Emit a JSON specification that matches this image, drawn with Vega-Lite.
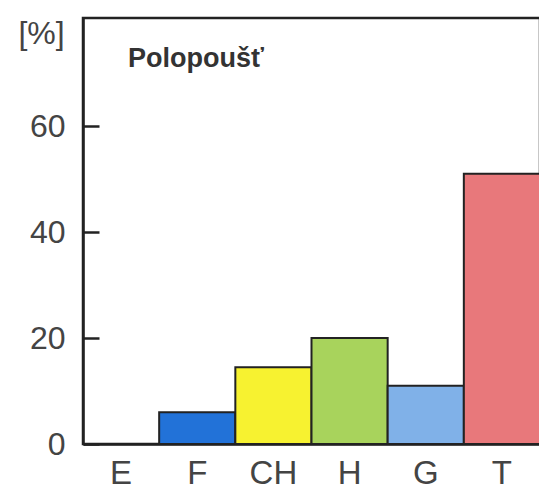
{
  "$schema": "https://vega.github.io/schema/vega-lite/v6.json",
  "width": 457,
  "height": 426,
  "autosize": {"type": "none"},
  "padding": {"left": 83, "top": 18, "right": 0, "bottom": 47},
  "background": "white",
  "config": {
    "view": {"stroke": "#222", "strokeWidth": 2.5},
    "font": "Liberation Sans"
  },
  "title": {
    "text": "Polopoušť",
    "anchor": "start",
    "frame": "group",
    "orient": "top",
    "offset": -56,
    "dx": 45,
    "fontSize": 27,
    "fontWeight": "bold",
    "color": "#333",
    "font": "Liberation Sans"
  },
  "data": {
    "values": [
      {"cat": "E", "pct": 0, "col": "#ffffff"},
      {"cat": "F", "pct": 6, "col": "#2272d8"},
      {"cat": "CH", "pct": 14.5, "col": "#f7f230"},
      {"cat": "H", "pct": 20, "col": "#a8d35c"},
      {"cat": "G", "pct": 11, "col": "#80b1e8"},
      {"cat": "T", "pct": 51, "col": "#e8787b"}
    ]
  },
  "mark": {"type": "bar", "stroke": "#222", "strokeWidth": 2},
  "encoding": {
    "x": {
      "field": "cat",
      "type": "nominal",
      "sort": null,
      "scale": {"paddingInner": 0, "paddingOuter": 0},
      "axis": {
        "title": null,
        "labelAngle": 0,
        "ticks": false,
        "labelFontSize": 33,
        "labelColor": "#444",
        "labelPadding": 13,
        "domainColor": "#222",
        "domainWidth": 2.5
      }
    },
    "y": {
      "field": "pct",
      "type": "quantitative",
      "scale": {"domain": [0, 80.4], "nice": false},
      "axis": {
        "values": [0, 20, 40, 60],
        "grid": false,
        "ticks": true,
        "tickSize": -16,
        "tickWidth": 2.5,
        "tickColor": "#222",
        "tickOpacity": 1,
        "zindex": 1,
        "domainColor": "#222",
        "domainWidth": 2.5,
        "labelFontSize": 32,
        "labelColor": "#444",
        "labelPadding": 34,
        "title": "[%]",
        "titleAngle": 0,
        "titleFontSize": 32,
        "titleFontWeight": "normal",
        "titleColor": "#444",
        "titleX": -42,
        "titleY": 25,
        "titleAlign": "center",
        "titleBaseline": "alphabetic"
      }
    },
    "fill": {"field": "col", "type": "nominal", "scale": null}
  }
}
